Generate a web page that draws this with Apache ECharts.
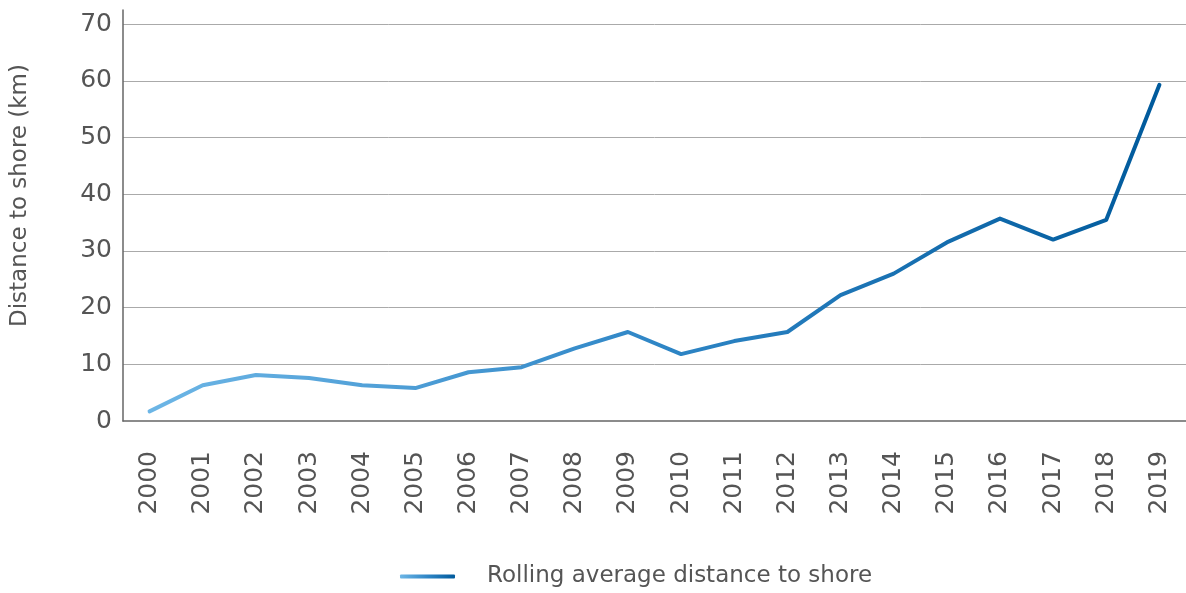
<!DOCTYPE html>
<html>
<head>
<meta charset="utf-8">
<script src="https://cdn.jsdelivr.net/npm/echarts@6/dist/echarts.min.js"></script>
<style>html,body{margin:0;padding:0;background:#fff}#c{width:1186px;height:593px}</style>
</head>
<body>
<div id="c"></div>
<script>
const years = ['2000','2001','2002','2003','2004','2005','2006','2007','2008','2009','2010','2011','2012','2013','2014','2015','2016','2017','2018','2019'];
const distance = [1.7, 6.3, 8.1, 7.6, 6.3, 5.8, 8.6, 9.5, 12.8, 15.7, 11.8, 14.1, 15.7, 22.2, 26.0, 31.5, 35.7, 32.0, 35.5, 59.3];
const seriesName = 'Rolling average distance to shore';
const yAxisName = 'Distance to shore (km)';

const chart = echarts.init(document.getElementById('c'));
const font = '"DejaVu Sans", sans-serif';
const grad = new echarts.graphic.LinearGradient(0, 0, 1, 0, [
  {offset: 0, color: '#6db6e6'},
  {offset: 0.5, color: '#2f86c6'},
  {offset: 1, color: '#005a9c'}
]);
chart.setOption({
  animation: false,
  textStyle: {fontFamily: font},
  grid: {left: 123, right: 0, top: 10, bottom: 172, outerBoundsMode: 'none', containLabel: false},
  legend: {
    top: 560, left: 395,
    itemWidth: 55, itemHeight: 4,
    textStyle: {fontSize: 23, color: '#555', fontFamily: font, padding: [0, 0, 0, 27]},
    data: [{name: seriesName, icon: 'roundRect'}]
  },
  xAxis: {
    type: 'category', data: years, boundaryGap: true,
    axisLine: {lineStyle: {color: '#666', width: 1.5}},
    axisTick: {show: false},
    axisLabel: {rotate: 90, fontSize: 25, color: '#555', margin: 30, fontFamily: font}
  },
  yAxis: {
    type: 'value', min: 0, max: 72.5, interval: 10,
    name: yAxisName, nameLocation: 'middle', nameGap: 91,
    nameTextStyle: {fontSize: 23, color: '#555', fontFamily: font, padding: [0, 0, 0, 40]},
    axisLine: {show: true, lineStyle: {color: '#666', width: 1.5}},
    axisTick: {show: false},
    axisLabel: {fontSize: 25, color: '#555', margin: 11, showMaxLabel: false, fontFamily: font},
    splitLine: {show: true, showMaxLine: false, showMinLine: false, lineStyle: {color: '#aaa', width: 1}}
  },
  series: [{
    name: seriesName, type: 'line', data: distance,
    symbol: 'none', smooth: false,
    lineStyle: {width: 4, color: grad, cap: 'round', join: 'round'},
    itemStyle: {color: grad}
  }]
});
</script>
</body>
</html>
